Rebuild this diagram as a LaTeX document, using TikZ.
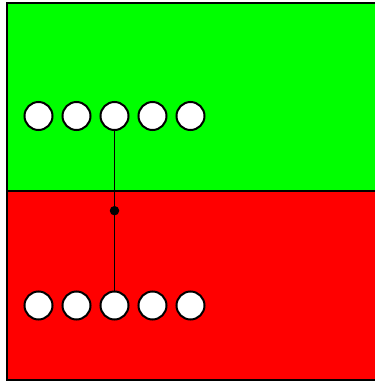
\documentclass[tikz,border=0pt]{standalone}
\begin{document}
\begin{tikzpicture}[x=1pt,y=-1pt,
  region/.style={draw=black,line width=2pt},
  unit/.style={circle,draw=black,fill=white,line width=2pt,minimum size=28pt,inner sep=0pt},
  link/.style={draw=black,line width=1.8pt},
  junction/.style={circle,fill=black,minimum size=9.5pt,inner sep=0pt}]
\useasboundingbox (0,0) rectangle (375,381);
\path[region,fill={rgb,255:red,0;green,255;blue,0}] (6.5,2.5) rectangle (378,190.5);
\path[region,fill={rgb,255:red,255;green,0;blue,0}] (6.5,190.5) rectangle (378,379.5);
\foreach \i/\x in {1/38.5,2/76.5,3/114.5,4/152.5,5/190.5}{
  \node[unit] (t\i) at (\x,116) {};
  \node[unit] (b\i) at (\x,305.5) {};
}
\node[junction] (d) at (114.5,210.7) {};
\draw[link] (t3) -- (b3);
\end{tikzpicture}
\end{document}
